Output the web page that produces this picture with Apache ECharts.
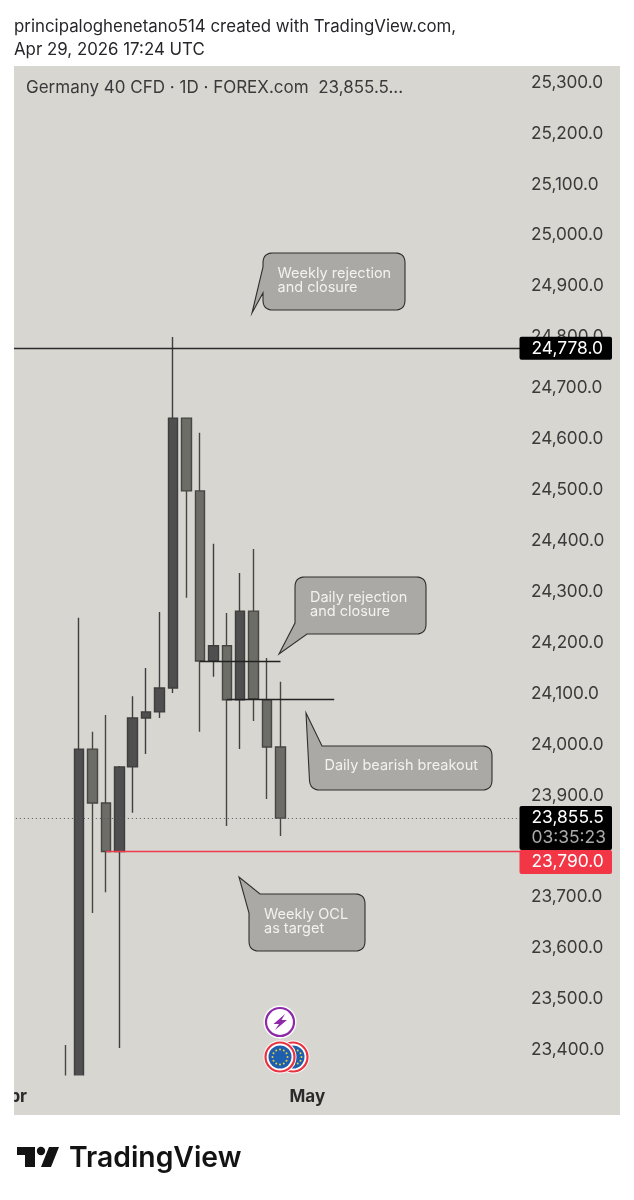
<!DOCTYPE html>
<html>
<head>
<meta charset="utf-8">
<style>html,body{margin:0;padding:0;background:#fff}#c{width:634px;height:1200px}</style>
<script src="https://cdn.jsdelivr.net/npm/echarts@6/dist/echarts.min.js"></script>
</head>
<body>
<div id="c"></div>
<script>
const categories = ['Apr 1','Apr 2','Apr 3','Apr 6','Apr 7','Apr 8','Apr 9','Apr 10','Apr 13','Apr 14','Apr 15','Apr 16','Apr 17','Apr 20','Apr 21','Apr 22','Apr 23','Apr 24','Apr 27','Apr 28','Apr 29','Apr 30','May 1','May 4','May 5','May 6','May 7','May 8','May 11','May 12','May 13','May 14','May 15','May 18','May 19','May 20','May 21','May 22','May 25'];
const monthLabels = {'Apr 1':'Apr','May 1':'May'};
// values per trading day, null = nothing drawn
const opens  = [null,null,null,null,23330,23320,23991,23885,23790,23956,24052,24064,24111,24641,24498,24164,24194,24088,24262,24088,23995,null];
const closes = [null,null,null,null,23320,23991,23885,23790,23956,24052,24064,24111,24641,24498,24164,24194,24088,24262,24090,23995,23855.5,null];
const lows   = [null,null,null,null,23300,23300,23669,23710,23404,23866,23981.5,24052,24101,24288,24025,24133,23840,23991,24046,23893,23820.5,null];
const highs  = [null,null,null,null,23410,24249,24025,24058,23958,24095,24150,24260,24800,24641,24612,24394,24258,24337,24384,24170,24123,null];
const tickLabels = [23400,23500,23600,23700,23800,23900,24000,24100,24200,24300,24400,24500,24600,24700,24800,24900,25000,25100,25200,25300];
const weeklyHigh = 24778, dailyLast = 23855.5, weeklyTarget = 23790;
const levelOne = 24164, levelTwo = 24088;
const countdown = '03:35:23';
const headerLines = 'principaloghenetano514 created with TradingView.com,\nApr 29, 2026 17:24 UTC';
const symbolTitle = 'Germany 40 CFD · 1D · FOREX.com  23,855.5...';

const fmt = v => v.toLocaleString('en-US',{minimumFractionDigits:1,maximumFractionDigits:1});
const candleData = categories.map((c,i)=> opens[i]==null ? '-' : [opens[i],closes[i],lows[i],highs[i]]);
const FONT = 'Inter, "Noto Sans", sans-serif';
const chart = echarts.init(document.getElementById('c'),null,{renderer:'canvas'});
const hl = (a,b,c,w,type)=>{const lineStyle={color:c,width:w,type};return [{coord:[a[0],a[1]],lineStyle},{coord:[b[0],b[1]],lineStyle}];};
chart.setOption({
  animation:false,
  backgroundColor:'#ffffff',
  title:[
    {text:headerLines,left:14,top:15,padding:0,textStyle:{fontFamily:FONT,fontSize:16.85,fontWeight:400,color:'#26262a',lineHeight:23}},
    {text:symbolTitle,left:26,top:79,padding:0,textStyle:{fontFamily:FONT,fontSize:17,fontWeight:400,color:'#3a3a3a'}}
  ],
  grid:{left:5.15,top:66,width:523.8,height:1009,outerBoundsMode:'none',containLabel:false},
  xAxis:{type:'category',data:categories,boundaryGap:true,z:10,
    axisLine:{show:false},axisTick:{show:false},splitLine:{show:false},
    axisLabel:{interval:0,margin:13,hideOverlap:false,color:'#2a2a2a',fontFamily:FONT,fontSize:17,fontWeight:700,lineHeight:17,
      formatter:v=>monthLabels[v]||''}},
  yAxis:{type:'value',position:'right',min:23351,max:25332.4,scale:true,
    axisLine:{show:false},axisTick:{show:false},splitLine:{show:false},
    axisLabel:{customValues:tickLabels,margin:2,color:'#3a3a3a',fontFamily:FONT,fontSize:17.2,formatter:v=>fmt(v)}},
  series:[{
    type:'candlestick',data:candleData,barWidth:10,clip:true,
    itemStyle:{color:'#4f4f4f',color0:'#6d6d68',borderColor:'#3e3e3e',borderColor0:'#464643',borderWidth:1.4},
    markLine:{silent:true,symbol:'none',label:{show:false},animation:false,
      data:[
        hl([0,weeklyHigh],[38,weeklyHigh],'#2a2a2a',1.4,'solid'),
        hl([0,dailyLast],[38,dailyLast],'#555',1,[1,3]),
        hl([7,weeklyTarget],[38,weeklyTarget],'#ef3b4d',1.4,'solid'),
        hl([14,levelOne],[20,levelOne],'#222',1.4,'solid'),
        hl([16,levelTwo],[24,levelTwo],'#222',1.4,'solid')
      ]}
  }]
});

const yPx = v => chart.convertToPixel({yAxisIndex:0},v);
const TAGX=519.5, TAGW=92.5, TEXTX=531.5;
function tag(v,h,dy,fill,kids){
  const top=yPx(v)-dy;
  return [{type:'rect',z:60,shape:{x:TAGX,y:top,width:TAGW,height:h,r:2},style:{fill}},
    ...kids.map(k=>({type:'text',z:61,style:{x:TEXTX,y:top+k.y,text:k.t,fill:k.c,font:'400 17.4px '+FONT,textVerticalAlign:'middle',textAlign:'left'}}))];
}
// outline with optionally rounded corners: each vertex is [x,y,r]
function outline(vs){
  const pts=[],n=vs.length;
  vs.forEach((p,i)=>{
    const r=p[2]||0;
    if(!r){pts.push([p[0],p[1]]);return;}
    const a=vs[(i+n-1)%n],b=vs[(i+1)%n];
    const u=(q)=>{const dx=q[0]-p[0],dy=q[1]-p[1],l=Math.hypot(dx,dy);return [p[0]+dx/l*r,p[1]+dy/l*r];};
    const s=u(a),e=u(b);
    for(let k=0;k<=8;k++){const t=k/8,m=1-t;pts.push([m*m*s[0]+2*m*t*p[0]+t*t*e[0],m*m*s[1]+2*m*t*p[1]+t*t*e[1]]);}
  });
  return pts;
}
function bubble(vs,lines,tx,ty){
  return [{type:'polygon',z:50,shape:{points:outline(vs)},style:{fill:'#aaa9a6',stroke:'#2f2f2f',lineWidth:1.1}},
    ...lines.map((t,i)=>({type:'text',z:51,style:{x:tx,y:ty+i*14,text:t,fill:'#f2f2f0',font:'400 14.5px '+FONT,textVerticalAlign:'middle'}}))];
}
const stars=(cx,cy,r,z)=>Array.from({length:12},(_,i)=>({type:'circle',z,shape:{cx:cx+r*Math.cos(i*Math.PI/6),cy:cy+r*Math.sin(i*Math.PI/6),r:1},style:{fill:'#e8d040'}}));
const flag=(cx,cy,z)=>[
  {type:'circle',z,shape:{cx,cy,r:16.5},style:{fill:'#fff'}},
  {type:'circle',z,shape:{cx,cy,r:14.5},style:{fill:'#fff',stroke:'#e8323f',lineWidth:2.2}},
  {type:'circle',z,shape:{cx,cy,r:11.5},style:{fill:'#1d5fae'}}
];
chart.setOption({graphic:{elements:[
  {type:'rect',z:-10,silent:true,shape:{x:14,y:66,width:606,height:1049},style:{fill:'#d7d6d1'}},
  {type:'rect',z:5,silent:true,shape:{x:14,y:1075.5,width:606,height:39.5},style:{fill:'#d7d6d1'}},
  {type:'rect',z:200,silent:true,shape:{x:0,y:66,width:14,height:1049},style:{fill:'#ffffff'}},
  ...bubble([[263,253,10],[405,253,10],[405,310,10],[263,310,10],[263,293],[252,313],[263,267]],['Weekly rejection','and closure'],277.5,273.5),
  ...bubble([[295,577,10],[426,577,10],[426,634,10],[307,634],[279,654],[295,623]],['Daily rejection','and closure'],310,597.5),
  ...bubble([[322,746],[492,746,10],[492,790,10],[310,790,10],[306,713]],['Daily bearish breakout'],324.5,765.5),
  ...bubble([[260,894],[365,894,10],[365,951,10],[249,951,10],[249,913],[239,877]],['Weekly OCL','as target'],264,914.5),
  ...tag(weeklyHigh,23,11.5,'#000',[{t:fmt(weeklyHigh),y:11.5,c:'#fff'}]),
  ...tag(dailyLast,44,12,'#000',[{t:fmt(dailyLast),y:12,c:'#fff'},{t:countdown,y:32,c:'#a9a9a9'}]),
  ...tag(weeklyTarget,24,1.5,'#f23645',[{t:fmt(weeklyTarget),y:12,c:'#fff'}]),
  {type:'circle',z:70,shape:{cx:280,cy:1022,r:16.5},style:{fill:'#fff'}},
  {type:'circle',z:71,shape:{cx:280,cy:1022,r:14},style:{fill:'#fff',stroke:'#8e2aa8',lineWidth:2.2}},
  {type:'polygon',z:72,shape:{points:[[285,1014],[273.5,1024],[279,1024],[275,1030],[287,1020],[281.5,1020]]},style:{fill:'#8e2aa8'}},
  ...flag(293,1057,68),...stars(294,1057,7.5,69),
  ...flag(280,1057,72),...stars(280,1057,7.5,73),
  {type:'polygon',z:10,shape:{points:[[17,1147],[35,1147],[35,1167],[25,1167],[25,1155],[17,1155]]},style:{fill:'#131313'}},
  {type:'circle',z:10,shape:{cx:41,cy:1151,r:4.2},style:{fill:'#131313'}},
  {type:'polygon',z:10,shape:{points:[[49,1147],[59,1147],[51,1167],[41,1167]]},style:{fill:'#131313'}},
  {type:'text',z:10,style:{x:69,y:1158,text:'TradingView',fill:'#131313',font:'600 28.3px '+FONT,textVerticalAlign:'middle'}}
]}});
</script>
</body>
</html>
